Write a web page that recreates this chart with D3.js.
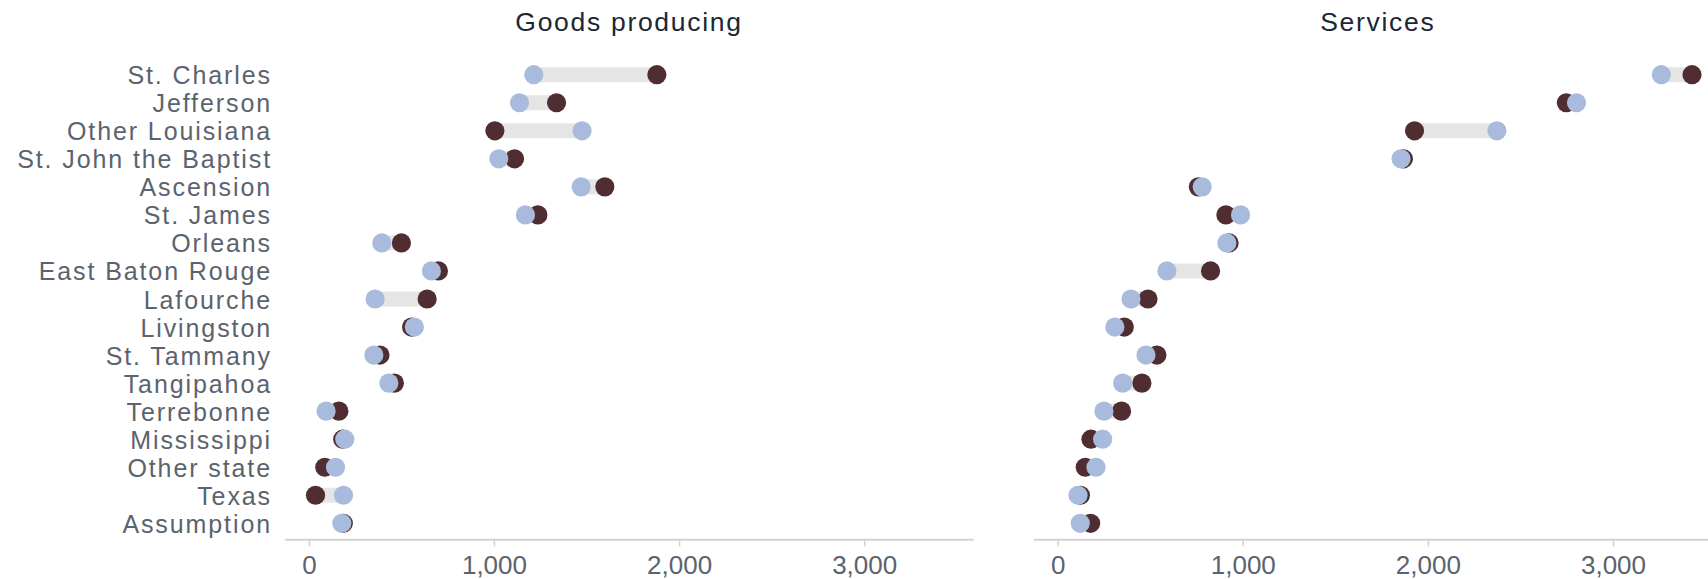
<!DOCTYPE html>
<html>
<head>
<meta charset="utf-8">
<script src="https://cdn.jsdelivr.net/npm/d3@7"></script>
<style>
  html, body { margin: 0; padding: 0; background: #ffffff; }
  svg { display: block; }
</style>
</head>
<body>
<script>
// ---- data ----
const categories = [
  "St. Charles", "Jefferson", "Other Louisiana", "St. John the Baptist", "Ascension",
  "St. James", "Orleans", "East Baton Rouge", "Lafourche", "Livingston",
  "St. Tammany", "Tangipahoa", "Terrebonne", "Mississippi", "Other state",
  "Texas", "Assumption"
];
const panelTitles = ["Goods producing", "Services"];
// dark (maroon) series
const goodsDark    = [1880, 1338, 1005, 1111, 1599, 1237, 500, 700, 639, 555, 384, 462, 162, 183, 86, 36, 186];
// light (blue) series
const goodsLight   = [1215, 1138, 1476, 1026, 1471, 1170, 394, 662, 358, 570, 351, 432, 93, 194, 144, 187, 178];
const servicesDark  = [3427, 2748, 1928, 1868, 760, 909, 926, 826, 488, 360, 536, 455, 345, 180, 149, 123, 178];
const servicesLight = [3261, 2803, 2373, 1855, 781, 988, 914, 590, 396, 309, 477, 351, 250, 243, 207, 110, 122];
const tickValues = [0, 1000, 2000, 3000];
const xDomain = [-130, 3589];

// ---- layout ----
const W = 1708, H = 579;
const panels = [
  { title: panelTitles[0], dark: goodsDark, light: goodsLight, range: [284.8, 973.2] },
  { title: panelTitles[1], dark: servicesDark, light: servicesLight, range: [1033.6, 1722] }
];
const yTop = 74.7, yBottom = 523.3, axisY = 539.3;
const r = 9.6, barH = 15;
const colDark = "#4f2d31", colLight = "#a8bbdc", colBar = "#e5e5e5";
const labelColor = "#5b636e", titleColor = "#1c2634";
const fontFam = "'Liberation Sans', Arial, Helvetica, sans-serif";

const svg = d3.select("body").append("svg")
  .attr("width", W).attr("height", H)
  .attr("viewBox", `0 0 ${W} ${H}`);

const y = d3.scalePoint().domain(categories).range([yTop, yBottom]);

// category labels
svg.append("g").selectAll("text").data(categories).join("text")
  .attr("x", 272)
  .attr("y", d => y(d))
  .attr("dy", "0.38em")
  .attr("text-anchor", "end")
  .attr("font-family", fontFam)
  .attr("font-size", 25)
  .attr("letter-spacing", "1.9px")
  .attr("fill", labelColor)
  .text(d => d);

panels.forEach(p => {
  const x = d3.scaleLinear().domain(xDomain).range(p.range);
  const g = svg.append("g");
  const rows = categories.map((c, i) => ({ c, d: p.dark[i], l: p.light[i] }));

  // title
  g.append("text")
    .attr("x", (p.range[0] + p.range[1]) / 2)
    .attr("y", 30.7)
    .attr("text-anchor", "middle")
    .attr("font-family", fontFam)
    .attr("font-size", 26.5)
    .attr("letter-spacing", "1.7px")
    .attr("fill", titleColor)
    .text(p.title);

  // range bars
  g.append("g").selectAll("line").data(rows).join("line")
    .attr("x1", d => x(Math.min(d.d, d.l)))
    .attr("x2", d => x(Math.max(d.d, d.l)))
    .attr("y1", d => y(d.c))
    .attr("y2", d => y(d.c))
    .attr("stroke", colBar)
    .attr("stroke-width", barH);

  // dark dots
  g.append("g").selectAll("circle").data(rows).join("circle")
    .attr("cx", d => x(d.d))
    .attr("cy", d => y(d.c))
    .attr("r", r)
    .attr("fill", colDark);

  // light dots (on top)
  g.append("g").selectAll("circle").data(rows).join("circle")
    .attr("cx", d => x(d.l))
    .attr("cy", d => y(d.c))
    .attr("r", r)
    .attr("fill", colLight);

  // axis
  const ax = g.append("g")
    .attr("transform", `translate(0,${axisY})`)
    .call(d3.axisBottom(x).tickValues(tickValues).tickFormat(d3.format(",")).tickSize(7).tickSizeOuter(0));
  ax.select(".domain").attr("stroke", "#d2d2d2").attr("stroke-width", 2);
  ax.selectAll(".tick line").attr("stroke", "#d2d2d2").attr("stroke-width", 1.5);
  ax.selectAll(".tick text")
    .attr("y", 35).attr("dy", 0)
    .attr("font-family", fontFam)
    .attr("font-size", 26)
    .attr("fill", labelColor);
});
</script>
</body>
</html>
